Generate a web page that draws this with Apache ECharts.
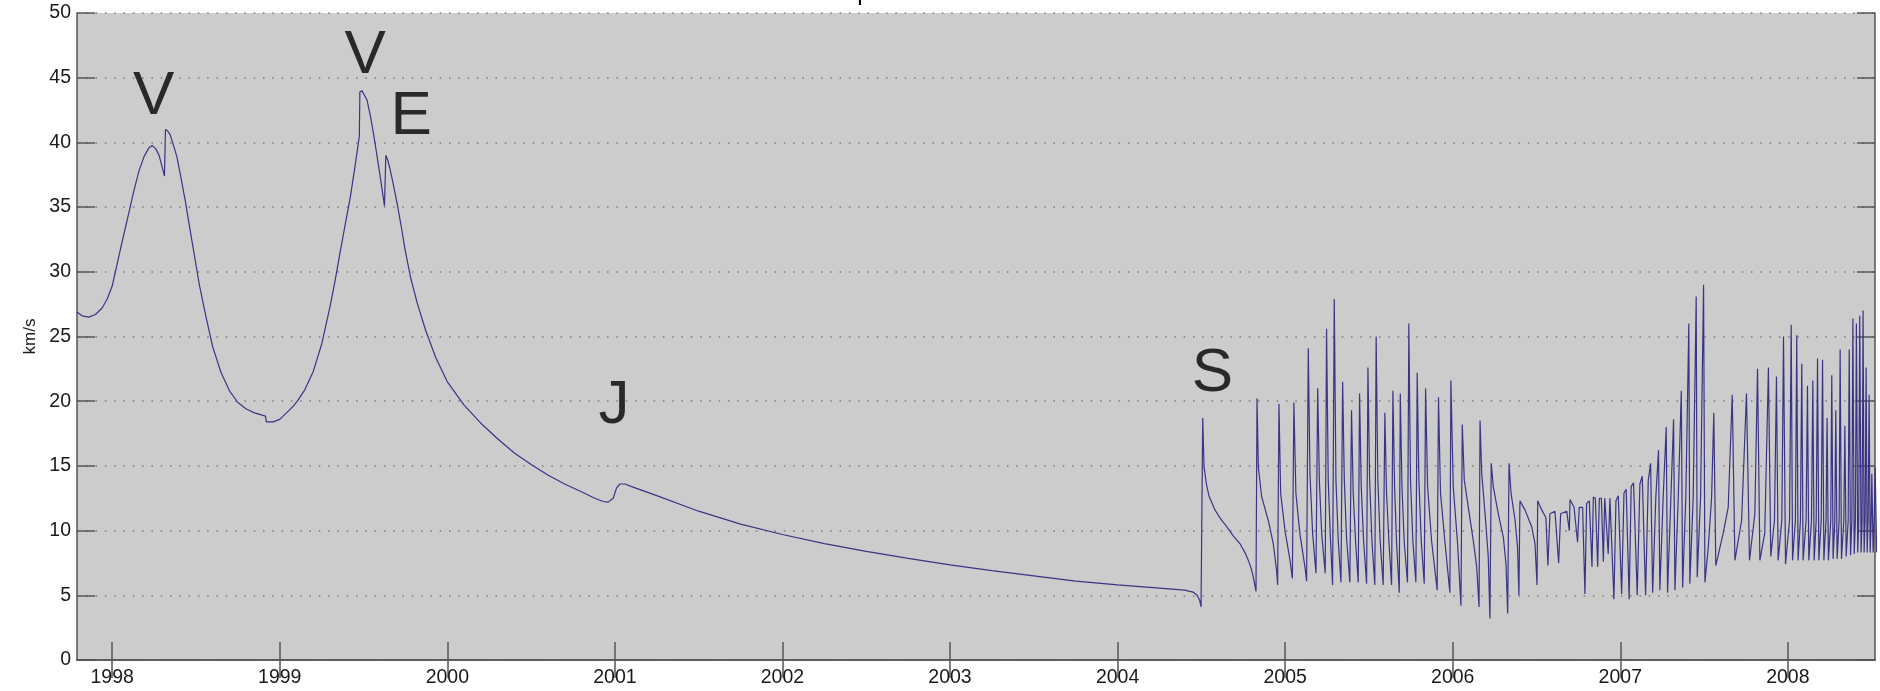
<!DOCTYPE html>
<html>
<head>
<meta charset="utf-8">
<title>Cassini speed</title>
<script src="https://cdn.jsdelivr.net/npm/echarts@6/dist/echarts.min.js"></script>
<style>
  html, body { margin: 0; padding: 0; background: #fff; }
  #chart { width: 1880px; height: 691px; }
</style>
</head>
<body>
<div id="chart"></div>
<script>
// cruise phase: smooth curve with the flybys (year, km/s)
const cruiseYear = [
  1997.79, 1997.82, 1997.86, 1997.90, 1997.94, 1997.97, 1998.00, 1998.05, 1998.10, 1998.13,
  1998.16, 1998.19, 1998.22, 1998.24, 1998.26, 1998.28, 1998.30, 1998.312, 1998.318, 1998.33,
  1998.346, 1998.37, 1998.386, 1998.41, 1998.436, 1998.46, 1998.485, 1998.52, 1998.56, 1998.60,
  1998.65, 1998.70, 1998.75, 1998.80, 1998.85, 1998.90, 1998.915, 1998.92, 1998.96, 1999.00,
  1999.04, 1999.08, 1999.11, 1999.15, 1999.20, 1999.25, 1999.30, 1999.33, 1999.36, 1999.39,
  1999.42, 1999.45, 1999.475, 1999.478, 1999.49, 1999.50, 1999.52, 1999.54, 1999.559, 1999.58,
  1999.60, 1999.625, 1999.633, 1999.645, 1999.659, 1999.68, 1999.70, 1999.725, 1999.748, 1999.78,
  1999.82, 1999.87, 1999.93, 2000.00, 2000.10, 2000.20, 2000.30, 2000.40, 2000.50, 2000.60,
  2000.70, 2000.80, 2000.88, 2000.93, 2000.96, 2000.99, 2001.01, 2001.03, 2001.06, 2001.10,
  2001.25, 2001.50, 2001.75, 2002.00, 2002.25, 2002.50, 2002.75, 2003.00, 2003.25, 2003.50,
  2003.75, 2004.00, 2004.25, 2004.40, 2004.45, 2004.475, 2004.49, 2004.498
]
const cruiseSpeed = [
  26.9, 26.6, 26.5, 26.7, 27.2, 27.9, 28.9, 31.8, 34.6, 36.3,
  37.8, 38.9, 39.6, 39.75, 39.5, 39.0, 38.0, 37.4, 41.0, 40.9,
  40.6, 39.6, 38.9, 37.3, 35.5, 33.6, 31.7, 29.0, 26.5, 24.2,
  22.2, 20.8, 19.9, 19.4, 19.1, 18.9, 18.85, 18.4, 18.4, 18.6,
  19.1, 19.6, 20.1, 20.9, 22.3, 24.4, 27.3, 29.3, 31.5, 33.6,
  35.7, 38.2, 40.5, 43.9, 44.0, 43.9, 43.3, 42.1, 40.7, 39.0,
  37.3, 35.1, 39.0, 38.6, 37.9, 36.6, 35.3, 33.5, 31.7, 29.6,
  27.6, 25.5, 23.4, 21.5, 19.7, 18.3, 17.1, 16.0, 15.1, 14.3,
  13.6, 13.0, 12.5, 12.25, 12.2, 12.5, 13.3, 13.6, 13.6, 13.4,
  12.7, 11.5, 10.5, 9.7, 9.0, 8.4, 7.85, 7.35, 6.9, 6.5,
  6.1, 5.8, 5.55, 5.4, 5.25, 5.0, 4.6, 4.1
]

// Saturn orbit phase: spikes at each periapsis
const orbitYear = [
  2004.508, 2004.516, 2004.530, 2004.545, 2004.581, 2004.615, 2004.651, 2004.690, 2004.730, 2004.760,
  2004.780, 2004.797, 2004.810, 2004.820, 2004.826, 2004.832, 2004.840, 2004.860, 2004.899, 2004.929,
  2004.949, 2004.955, 2004.963, 2004.973, 2004.999, 2005.029, 2005.043, 2005.052, 2005.064, 2005.088,
  2005.118, 2005.128, 2005.138, 2005.148, 2005.164, 2005.184, 2005.194, 2005.204, 2005.218, 2005.239,
  2005.247, 2005.257, 2005.270, 2005.283, 2005.293, 2005.303, 2005.317, 2005.333, 2005.343, 2005.353,
  2005.366, 2005.386, 2005.396, 2005.406, 2005.420, 2005.436, 2005.444, 2005.454, 2005.468, 2005.486,
  2005.494, 2005.504, 2005.518, 2005.535, 2005.543, 2005.553, 2005.567, 2005.585, 2005.595, 2005.605,
  2005.619, 2005.635, 2005.643, 2005.653, 2005.665, 2005.681, 2005.687, 2005.697, 2005.711, 2005.730,
  2005.738, 2005.748, 2005.762, 2005.780, 2005.788, 2005.798, 2005.812, 2005.830, 2005.838, 2005.850,
  2005.874, 2005.907, 2005.915, 2005.927, 2005.953, 2005.983, 2005.989, 2006.003, 2006.029, 2006.049,
  2006.057, 2006.069, 2006.102, 2006.123, 2006.143, 2006.157, 2006.163, 2006.173, 2006.193, 2006.212,
  2006.222, 2006.230, 2006.242, 2006.272, 2006.302, 2006.318, 2006.328, 2006.336, 2006.348, 2006.372,
  2006.387, 2006.395, 2006.401, 2006.431, 2006.471, 2006.491, 2006.503, 2006.507, 2006.531, 2006.556,
  2006.568, 2006.580, 2006.610, 2006.632, 2006.644, 2006.680, 2006.696, 2006.700, 2006.724, 2006.745,
  2006.755, 2006.775, 2006.789, 2006.799, 2006.815, 2006.831, 2006.839, 2006.851, 2006.865, 2006.875,
  2006.887, 2006.899, 2006.907, 2006.918, 2006.928, 2006.938, 2006.962, 2006.974, 2006.988, 2007.008,
  2007.022, 2007.035, 2007.053, 2007.065, 2007.079, 2007.101, 2007.117, 2007.131, 2007.151, 2007.167,
  2007.181, 2007.193, 2007.212, 2007.228, 2007.236, 2007.256, 2007.274, 2007.282, 2007.302, 2007.318,
  2007.326, 2007.346, 2007.364, 2007.372, 2007.391, 2007.409, 2007.415, 2007.435, 2007.453, 2007.459,
  2007.479, 2007.497, 2007.505, 2007.525, 2007.545, 2007.558, 2007.570, 2007.614, 2007.644, 2007.668,
  2007.684, 2007.724, 2007.753, 2007.771, 2007.803, 2007.819, 2007.833, 2007.862, 2007.884, 2007.898,
  2007.920, 2007.932, 2007.942, 2007.964, 2007.974, 2007.986, 2008.010, 2008.020, 2008.028, 2008.045,
  2008.053, 2008.061, 2008.075, 2008.083, 2008.091, 2008.109, 2008.117, 2008.125, 2008.141, 2008.149,
  2008.157, 2008.169, 2008.177, 2008.185, 2008.199, 2008.207, 2008.215, 2008.228, 2008.234, 2008.242,
  2008.256, 2008.262, 2008.270, 2008.280, 2008.286, 2008.294, 2008.306, 2008.312, 2008.320, 2008.334,
  2008.340, 2008.348, 2008.360, 2008.366, 2008.374, 2008.382, 2008.388, 2008.396, 2008.403, 2008.409,
  2008.417, 2008.423, 2008.429, 2008.437, 2008.443, 2008.449, 2008.455, 2008.461, 2008.467, 2008.473,
  2008.479, 2008.485, 2008.491, 2008.497, 2008.501, 2008.509, 2008.515, 2008.521, 2008.530
]
const orbitSpeed = [
  18.7, 14.9, 13.6, 12.7, 11.6, 10.9, 10.3, 9.6, 9.0, 8.3,
  7.7, 7.1, 6.4, 5.7, 5.3, 20.2, 14.9, 12.6, 10.8, 9.0,
  6.9, 5.8, 19.8, 12.9, 10.0, 7.7, 6.3, 19.9, 12.9, 9.75,
  7.2, 6.1, 24.1, 14.4, 9.75, 6.7, 21.0, 13.9, 9.75, 6.7,
  25.6, 13.9, 9.4, 5.8, 27.9, 13.9, 9.2, 6.0, 21.5, 13.9,
  9.5, 6.0, 19.3, 12.9, 9.2, 6.0, 20.6, 13.4, 9.2, 5.9,
  22.6, 13.9, 9.2, 5.8, 25.0, 13.9, 9.2, 5.8, 19.1, 12.9,
  9.2, 5.8, 20.8, 13.4, 9.0, 5.2, 20.6, 13.4, 9.0, 6.0,
  26.0, 13.9, 9.2, 6.0, 22.2, 13.9, 9.2, 5.9, 21.0, 13.4,
  9.2, 5.4, 20.3, 12.9, 9.2, 5.2, 21.6, 13.4, 9.0, 4.2,
  18.2, 13.9, 11.0, 9.2, 7.2, 4.1, 18.5, 14.4, 11.3, 8.0,
  3.2, 15.2, 13.4, 11.3, 9.5, 7.4, 3.6, 15.2, 12.9, 10.8,
  8.7, 5.0, 12.3, 11.6, 10.3, 9.0, 5.8, 12.3, 11.6, 11.0,
  7.3, 11.3, 11.5, 7.5, 11.3, 11.5, 10.0, 12.4, 11.8, 9.1,
  11.8, 11.8, 5.1, 12.1, 12.3, 7.2, 12.6, 12.5, 7.2, 12.5,
  12.5, 7.6, 12.5, 12.4, 8.2, 12.5, 4.7, 12.3, 12.7, 5.1,
  12.9, 13.2, 4.7, 13.4, 13.7, 5.0, 13.6, 14.2, 5.0, 13.9,
  15.2, 5.2, 12.6, 16.2, 5.4, 12.6, 18.0, 5.2, 12.6, 18.6,
  5.4, 12.6, 20.8, 5.6, 12.6, 26.0, 5.9, 12.6, 28.1, 6.4,
  12.6, 29.0, 6.0, 8.7, 12.6, 19.1, 7.3, 9.8, 11.8, 20.5,
  7.7, 10.8, 20.6, 7.7, 11.3, 22.5, 7.7, 9.8, 22.6, 8.0,
  10.8, 21.9, 7.7, 10.8, 25.0, 7.4, 10.8, 25.9, 7.7, 10.8,
  25.1, 7.7, 10.8, 22.9, 7.7, 10.8, 21.2, 7.7, 10.8, 21.6,
  7.7, 10.8, 23.3, 7.7, 10.8, 23.2, 7.7, 10.8, 18.7, 7.7,
  10.8, 22.0, 7.8, 10.8, 19.3, 7.8, 10.8, 24.0, 7.8, 10.8,
  18.1, 8.0, 10.8, 24.0, 8.1, 10.8, 26.4, 8.2, 10.8, 26.0,
  8.3, 10.8, 26.6, 8.3, 10.8, 27.0, 8.3, 10.8, 22.6, 8.3,
  10.8, 20.5, 8.3, 10.8, 14.4, 8.3, 10.8, 14.9, 8.3
]

const yearTicks = [1998, 1999, 2000, 2001, 2002, 2003, 2004, 2005, 2006, 2007, 2008]

// flyby letters, placed in data coordinates
const flybyText = ['V', 'V', 'E', 'J', 'S']
const flybyYear = [1998.248, 1999.510, 1999.784, 2000.995, 2004.566]
const flybySpeed = [43.55, 46.65, 42.0, 19.66, 22.12]

const speedData = cruiseYear.map((y, i) => [y, cruiseSpeed[i]])
  .concat(orbitYear.map((y, i) => [y, orbitSpeed[i]]))

const flybyData = flybyText.map((t, i) => ({ name: t, value: [flybyYear[i], flybySpeed[i]] }))

const font = '"Liberation Sans", Arial, Helvetica, sans-serif'
const frame = { show: true, lineStyle: { color: '#555', width: 1.5 } }
const tick = { show: true, inside: true, length: 18, lineStyle: { color: '#555', width: 1.5 } }

const chart = echarts.init(document.getElementById('chart'))
chart.setOption({
  animation: false,
  backgroundColor: '#fff',
  textStyle: { fontFamily: font },
  title: {
    text: 'Cassini speed',
    left: 755,
    top: -24,
    textStyle: { fontSize: 24, fontWeight: 'normal', color: '#000', fontFamily: font },
  },
  grid: {
    left: 77, right: 5, top: 13, bottom: 31,
    show: true, backgroundColor: '#cccccc', borderWidth: 0,
  },
  xAxis: [
    {
      type: 'value', position: 'bottom', min: 1997.79, max: 2008.52,
      axisLine: frame,
      axisTick: { ...tick, customValues: yearTicks },
      axisLabel: {
        customValues: yearTicks,
        formatter: v => String(v),
        fontSize: 19.5, color: '#1a1a1a', margin: 8, fontFamily: font,
      },
      splitLine: { show: false },
    },
    {
      type: 'value', position: 'top', min: 1997.79, max: 2008.52,
      axisLine: frame,
      axisTick: { ...tick, customValues: yearTicks },
      axisLabel: { show: false },
      splitLine: { show: false },
    },
  ],
  yAxis: [
    {
      type: 'value', position: 'left', min: 0, max: 50, interval: 5,
      name: 'km/s', nameLocation: 'middle', nameGap: 30, nameRotate: 90,
      nameTextStyle: { fontSize: 17, color: '#1a1a1a', fontFamily: font },
      axisLine: frame,
      axisTick: tick,
      axisLabel: { fontSize: 19.5, color: '#1a1a1a', margin: 6, fontFamily: font },
      splitLine: { show: true, lineStyle: { color: '#7a7a7a', width: 1.5, type: [1.5, 7.8] } },
    },
    {
      type: 'value', position: 'right', min: 0, max: 50, interval: 5,
      axisLine: frame,
      axisTick: tick,
      axisLabel: { show: false },
      splitLine: { show: false },
    },
  ],
  series: [
    {
      name: 'speed',
      type: 'line',
      data: speedData,
      showSymbol: false,
      clip: true,
      lineStyle: { color: '#3a3485', width: 1.2 },
    },
    {
      name: 'flybys',
      type: 'scatter',
      data: flybyData,
      symbolSize: 0,
      label: {
        show: true,
        position: 'inside',
        formatter: '{b}',
        fontSize: 62,
        color: '#000',
        fontFamily: font,
      },
    },
  ],
})
</script>
</body>
</html>
